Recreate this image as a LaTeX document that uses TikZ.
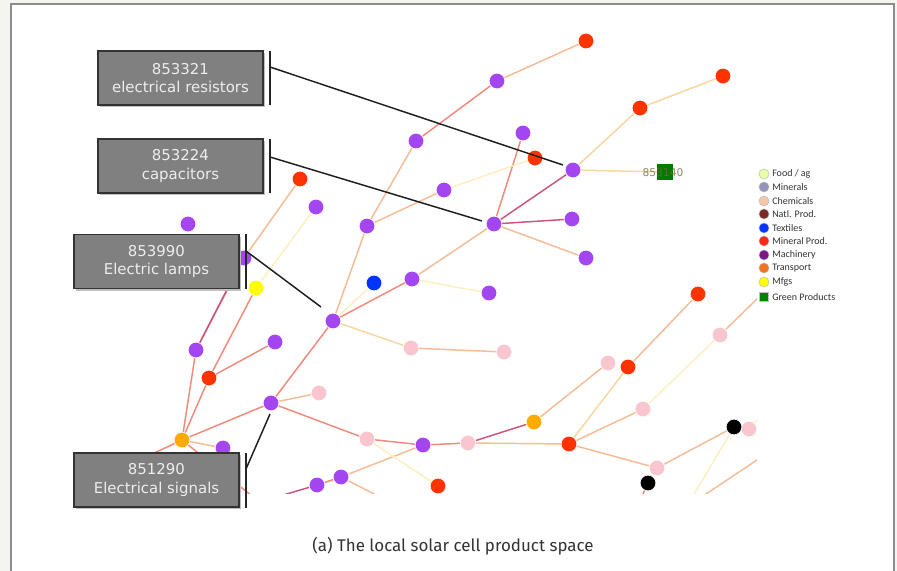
\documentclass[tikz,border=0pt]{standalone}
\usepackage{fontspec}
\setmainfont{DejaVu Sans}
\newfontfamily\capfont{Fira Sans}
\newfontfamily\legfont{Carlito}
\definecolor{cpur}{HTML}{A346F2}
\definecolor{cred}{HTML}{FF3300}
\definecolor{cpnk}{HTML}{F9C6D0}
\definecolor{corg}{HTML}{FFAA00}
\definecolor{cyel}{HTML}{FFFF00}
\definecolor{cblu}{HTML}{0033FF}
\definecolor{cgrn}{HTML}{007A00}
\definecolor{eSal}{HTML}{F08A7A}
\definecolor{eOra}{HTML}{F5BC95}
\definecolor{eYel}{HTML}{FDEFC0}
\definecolor{eRos}{HTML}{C9557C}
\definecolor{ePal}{HTML}{F8D6A0}
\definecolor{boxfill}{HTML}{808080}
\definecolor{boxline}{HTML}{333333}
\definecolor{bgray}{HTML}{F4F4F0}
\definecolor{frame}{HTML}{8C8C8C}
\definecolor{glab}{HTML}{6B6B3A}
\begin{document}
\begin{tikzpicture}[x=0.75pt,y=-0.75pt,
  nd/.style={circle,inner sep=0pt,minimum size=11.8pt,draw=white,line width=0.5pt},
  pur/.style={nd,fill=cpur},
  rdn/.style={nd,fill=cred},
  pnk/.style={nd,fill=cpnk},
  orn/.style={nd,fill=corg},
  yln/.style={nd,fill=cyel},
  bln/.style={nd,fill=cblu},
  blk/.style={nd,fill=black},
  gsq/.style={rectangle,inner sep=0pt,minimum size=11.5pt,fill=cgrn},
  ed/.style={line width=1.1pt},
  eS/.style={ed,draw=eSal},
  eO/.style={ed,draw=eOra},
  eY/.style={ed,draw=eYel},
  eR/.style={ed,draw=eRos},
  eP/.style={ed,draw=ePal},
  lbox/.style={rectangle,fill=boxfill,draw=boxline,line width=1pt,
     minimum width=123.75pt,minimum height=40.5pt,align=center,
     text=white!93!black,font=\fontsize{11.2}{14}\selectfont},
  shad/.style={rectangle,fill=black!25,minimum width=123.75pt,minimum height=40.5pt},
  bar/.style={line width=1.2pt,draw=black!85},
  lead/.style={line width=1.1pt,draw=black!88},
  lgd/.style={circle,inner sep=0pt,minimum size=7.6pt,draw=black!25,line width=0.4pt},
  ltx/.style={anchor=west,inner sep=0pt,font=\legfont\fontsize{7.5}{8}\selectfont,text=black!80}
]
\useasboundingbox (0,0) rectangle (897,571);
\fill[bgray] (0,0) rectangle (897,571);
\filldraw[fill=white,draw=frame,line width=1.3pt] (11,4) rectangle (894,590);

% coordinates of graph nodes
\coordinate (p0) at (416,141);
\coordinate (p1) at (497,81);
\coordinate (r1) at (586,41);
\coordinate (r2) at (723,76);
\coordinate (r3) at (640,108);
\coordinate (p2) at (523,133);
\coordinate (r4) at (535,158);
\coordinate (p3) at (573,170);
\coordinate (g1) at (665,172);
\coordinate (p4) at (444,190);
\coordinate (p5) at (494,224);
\coordinate (p6) at (572,219);
\coordinate (p7) at (586,258);
\coordinate (r5) at (300,179);
\coordinate (p8) at (316,207);
\coordinate (p9) at (367,226);
\coordinate (p10) at (188,224);
\coordinate (p11) at (244,258);
\coordinate (b1) at (374,283);
\coordinate (p12) at (412,279);
\coordinate (y1) at (256,288);
\coordinate (p13) at (489,293);
\coordinate (p14) at (333,321);
\coordinate (k1) at (411,348);
\coordinate (k4) at (504,352);
\coordinate (p15) at (196,350);
\coordinate (p16) at (275,342);
\coordinate (r6) at (209,378);
\coordinate (k2) at (319,393);
\coordinate (p17) at (271,403);
\coordinate (o1) at (182,440);
\coordinate (p18) at (223,448);
\coordinate (k3) at (367,439);
\coordinate (p19) at (423,445);
\coordinate (k5) at (468,443);
\coordinate (p20) at (341,477);
\coordinate (p21) at (317,485);
\coordinate (r7) at (438,486);
\coordinate (r8) at (698,294);
\coordinate (k6) at (720,335);
\coordinate (k7) at (608,363);
\coordinate (r9) at (628,367);
\coordinate (k8) at (643,409);
\coordinate (o2) at (534,422);
\coordinate (r10) at (569,444);
\coordinate (x1) at (734,427);
\coordinate (k9) at (749,429);
\coordinate (k10) at (657,468);
\coordinate (x2) at (648,483);
% free ends
\coordinate (f1) at (760,296);
\coordinate (f2) at (693,496);
\coordinate (f3a) at (760,458);
\coordinate (f3b) at (703,496);
\coordinate (f4) at (642,496);
\coordinate (f5) at (280,496);
\coordinate (f6) at (378,496);
\coordinate (f7) at (150,455);
\coordinate (f8) at (252,496);
\coordinate (f9) at (236,272);
\coordinate (f10) at (760,417);

\begin{scope}
\clip (11,4) rectangle (757,493);
% edges
\draw[eO] (p1)--(r1) (p0)--(p9) (p9)--(p4) (p9)--(p14) (p5)--(p7) (p5)--(p12)
  (k1)--(k4) (r5)--(p11) (o1)--(p18) (p17)--(k2) (p19)--(p20) (o2)--(k7)
  (r9)--(r8) (r10)--(k8) (r10)--(k10) (k10)--(x1) (k6)--(f1) (f3a)--(f3b)
  (p20)--(f6) (k5)--(r10);
\draw[eS] (p1)--(p0) (p5)--(p2) (p12)--(p14) (p14)--(p17) (y1)--(r6) (r6)--(p16)
  (r6)--(o1) (p15)--(o1) (p15)--(p11) (o1)--(p17) (o1)--(f7) (o1)--(f8)
  (p17)--(k3) (k3)--(p19) (p19)--(k5) (p21)--(p20) (x2)--(f4);
\draw[eR] (p5)--(p3) (p5)--(p6) (k5)--(o2) (p21)--(f5) (p15)--(f9);
\draw[eY] (p4)--(r4) (p12)--(p13) (p14)--(b1) (p8)--(y1) (k3)--(r7) (k8)--(k6)
  (x1)--(f2) (k9)--(f10);
\draw[eP] (p3)--(r3) (r3)--(r2) (p3)--(g1) (p14)--(k1) (r10)--(r9);
% nodes
\node[pur] (n-p0) at (p0) {};
\node[pur] (n-p1) at (p1) {};
\node[rdn] (n-r1) at (r1) {};
\node[rdn] (n-r2) at (r2) {};
\node[rdn] (n-r3) at (r3) {};
\node[pur] (n-p2) at (p2) {};
\node[rdn] (n-r4) at (r4) {};
\node[pur] (n-p3) at (p3) {};
\node[gsq] (n-g1) at (g1) {};
\node[inner sep=0pt,font=\fontsize{8}{9}\selectfont,text=glab,opacity=0.8] (t-g1) at (663,172.5) {853140};
\node[pur] (n-p4) at (p4) {};
\node[pur] (n-p5) at (p5) {};
\node[pur] (n-p6) at (p6) {};
\node[pur] (n-p7) at (p7) {};
\node[rdn] (n-r5) at (r5) {};
\node[pur] (n-p8) at (p8) {};
\node[pur] (n-p9) at (p9) {};
\node[pur] (n-p10) at (p10) {};
\node[pur] (n-p11) at (p11) {};
\node[bln] (n-b1) at (b1) {};
\node[pur] (n-p12) at (p12) {};
\node[yln] (n-y1) at (y1) {};
\node[pur] (n-p13) at (p13) {};
\node[pur] (n-p14) at (p14) {};
\node[pnk] (n-k1) at (k1) {};
\node[pnk] (n-k4) at (k4) {};
\node[pur] (n-p15) at (p15) {};
\node[pur] (n-p16) at (p16) {};
\node[rdn] (n-r6) at (r6) {};
\node[pnk] (n-k2) at (k2) {};
\node[pur] (n-p17) at (p17) {};
\node[orn] (n-o1) at (o1) {};
\node[pur] (n-p18) at (p18) {};
\node[pnk] (n-k3) at (k3) {};
\node[pur] (n-p19) at (p19) {};
\node[pnk] (n-k5) at (k5) {};
\node[pur] (n-p20) at (p20) {};
\node[pur] (n-p21) at (p21) {};
\node[rdn] (n-r7) at (r7) {};
\node[rdn] (n-r8) at (r8) {};
\node[pnk] (n-k6) at (k6) {};
\node[pnk] (n-k7) at (k7) {};
\node[rdn] (n-r9) at (r9) {};
\node[pnk] (n-k8) at (k8) {};
\node[orn] (n-o2) at (o2) {};
\node[rdn] (n-r10) at (r10) {};
\node[pnk] (n-k9) at (k9) {};
\node[blk] (n-x1) at (x1) {};
\node[pnk] (n-k10) at (k10) {};
\node[blk] (n-x2) at (x2) {};
\end{scope}

% label boxes
\node[shad] at (182.5,80) {};
\node[lbox] (bx1) at (180.5,78) {853321\\electrical resistors};
\node[shad] at (182.5,168) {};
\node[lbox] (bx2) at (180.5,166) {853224\\capacitors};
\node[shad] at (158.5,263.5) {};
\node[lbox] (bx3) at (156.5,261.5) {853990\\Electric lamps};
\node[shad] at (158.5,482) {};
\node[lbox] (bx4) at (156.5,480) {851290\\Electrical signals};
\draw[bar] (270,51) -- (270,105);
\draw[bar] (270,139) -- (270,193);
\draw[bar] (246,234) -- (246,289);
\draw[bar] (246,453) -- (246,508);

% leader lines
\coordinate (l1s) at (270,67);   \coordinate (l1e) at (563,165);
\coordinate (l2s) at (270,157);  \coordinate (l2e) at (482,221);
\coordinate (l3s) at (246,251);  \coordinate (l3e) at (321,307);
\coordinate (l4s) at (246,469);  \coordinate (l4e) at (270,414);
\draw[lead] (l1s) -- (l1e);
\draw[lead] (l2s) -- (l2e);
\draw[lead] (l3s) -- (l3e);
\draw[lead] (l4s) -- (l4e);

% legend
\node[lgd,fill=green!25!yellow!35] (lg1) at (764,174) {};
\node[ltx] at (772,174) {Food / ag};
\node[lgd,fill=gray!80!blue!70] (lg2) at (764,187) {};
\node[ltx] at (772,187) {Minerals};
\node[lgd,fill={rgb,255:red,246;green,200;blue,170}] (lg3) at (764,201) {};
\node[ltx] at (772,201) {Chemicals};
\node[lgd,fill={rgb,255:red,122;green,40;blue,40}] (lg4) at (764,214) {};
\node[ltx] at (772,214) {Natl. Prod.};
\node[lgd,fill=cblu] (lg5) at (764,228) {};
\node[ltx] at (772,228) {Textiles};
\node[lgd,fill={rgb,255:red,250;green,40;blue,20}] (lg6) at (764,241) {};
\node[ltx] at (772,241) {Mineral Prod.};
\node[lgd,fill={rgb,255:red,120;green,25;blue,135}] (lg7) at (764,255) {};
\node[ltx] at (772,255) {Machinery};
\node[lgd,fill={rgb,255:red,240;green,115;blue,35}] (lg8) at (764,268) {};
\node[ltx] at (772,268) {Transport};
\node[lgd,fill=cyel] (lg9) at (764,282) {};
\node[ltx] at (772,282) {Mfgs};
\node[rectangle,inner sep=0pt,minimum size=6.8pt,fill={rgb,255:red,0;green,130;blue,0},draw=black!25,line width=0.3pt] (lg10) at (764,297) {};
\node[ltx] at (772,297) {Green Products};

% caption
\node[font=\capfont\fontsize{12.7}{14}\selectfont,text=black!80] (cap) at (453,546) {(a) The local solar cell product space};
\end{tikzpicture}
\end{document}
